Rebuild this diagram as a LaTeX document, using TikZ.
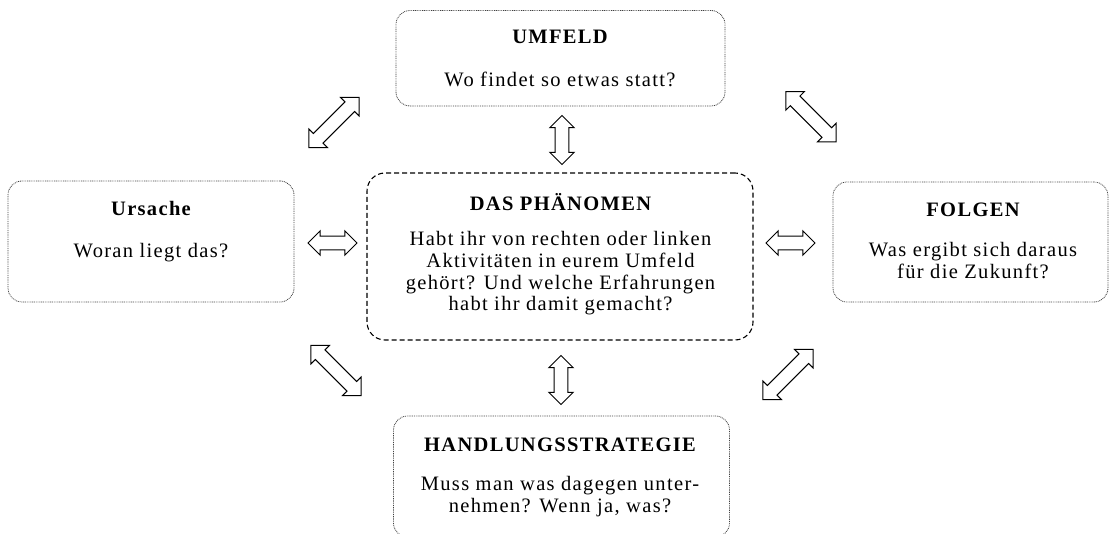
\documentclass[tikz,border=0pt]{standalone}
\usepackage{fontspec}
\setmainfont{Liberation Serif}[LetterSpace=6.5]
\usetikzlibrary{shapes.arrows}
\begin{document}
\begin{tikzpicture}[x=1pt,y=-1pt,
  every node/.style={inner sep=0pt, outer sep=0pt},
  box/.style={draw=black!75, line width=0.8pt, dash pattern=on 0.9pt off 0.9pt, rounded corners=14pt},
  centerbox/.style={draw=black, line width=1.1pt, dash pattern=on 5pt off 3pt, rounded corners=18pt},
  txt/.style={anchor=base, font=\fontsize{20.5}{21.7}\selectfont},
  ttl/.style={anchor=base, font=\fontsize{20.5}{21.7}\selectfont\bfseries},
  dblarr/.style={double arrow, draw=black, fill=white, line width=1pt, inner xsep=0pt, inner ysep=6.3pt, double arrow head extend=5.3pt, minimum height=49pt},
  diagarr/.style={dblarr, double arrow head extend=6.3pt, minimum height=71pt}]
\useasboundingbox (0,0) rectangle (1109,534);
\clip (0,0) rectangle (1109,534);
% boxes
\node[box, minimum width=329pt, minimum height=95.5pt] (umfeld) at (560.5,58.25) {};
\node[box, minimum width=286pt, minimum height=121pt] (ursache) at (151,241.5) {};
\node[centerbox, minimum width=386pt, minimum height=167pt] (phaen) at (560,256.5) {};
\node[box, minimum width=275pt, minimum height=120pt] (folgen) at (970.5,242) {};
\node[box, minimum width=336pt, minimum height=121pt] (handl) at (561.5,476.5) {};
% texts
\node[ttl] (t1) at (560,44) {UMFELD};
\node[txt] (t1a) at (560,86.7) {Wo findet so etwas statt?};
\node[ttl] (t2) at (151,215.7) {Ursache};
\node[txt] (t2a) at (151,258) {Woran liegt das?};
\node[ttl] (t3) at (560.5,211) {DAS PHÄNOMEN};
\node[txt] (t3a) at (560.5,246) {Habt ihr von rechten oder linken};
\node[txt] (t3b) at (560.5,267.7) {Aktivitäten in eurem Umfeld};
\node[txt] (t3c) at (560.5,289.4) {gehört? Und welche Erfahrungen};
\node[txt] (t3d) at (560.5,311) {habt ihr damit gemacht?};
\node[ttl] (t4) at (973,216.7) {FOLGEN};
\node[txt] (t4a) at (973,256.7) {Was ergibt sich daraus};
\node[txt] (t4b) at (973,278.3) {für die Zukunft?};
\node[ttl] (t5) at (560,451.7) {HANDLUNGSSTRATEGIE};
\node[txt] (t5a) at (560,490.7) {Muss man was dagegen unter-};
\node[txt] (t5b) at (560,512.3) {nehmen? Wenn ja, was?};
% arrows
\node[dblarr, rotate=90] (aT) at (562,140) {};
\node[dblarr, rotate=90] (aB) at (561,380) {};
\node[dblarr] (aL) at (332.5,243) {};
\node[dblarr] (aR) at (790.5,243) {};
\node[diagarr, rotate=45] (aTL) at (334,122.5) {};
\node[diagarr, rotate=-45] (aTR) at (811,116.7) {};
\node[diagarr, rotate=-45] (aBL) at (336,370.5) {};
\node[diagarr, rotate=45] (aBR) at (788,374.5) {};
\end{tikzpicture}
\end{document}
